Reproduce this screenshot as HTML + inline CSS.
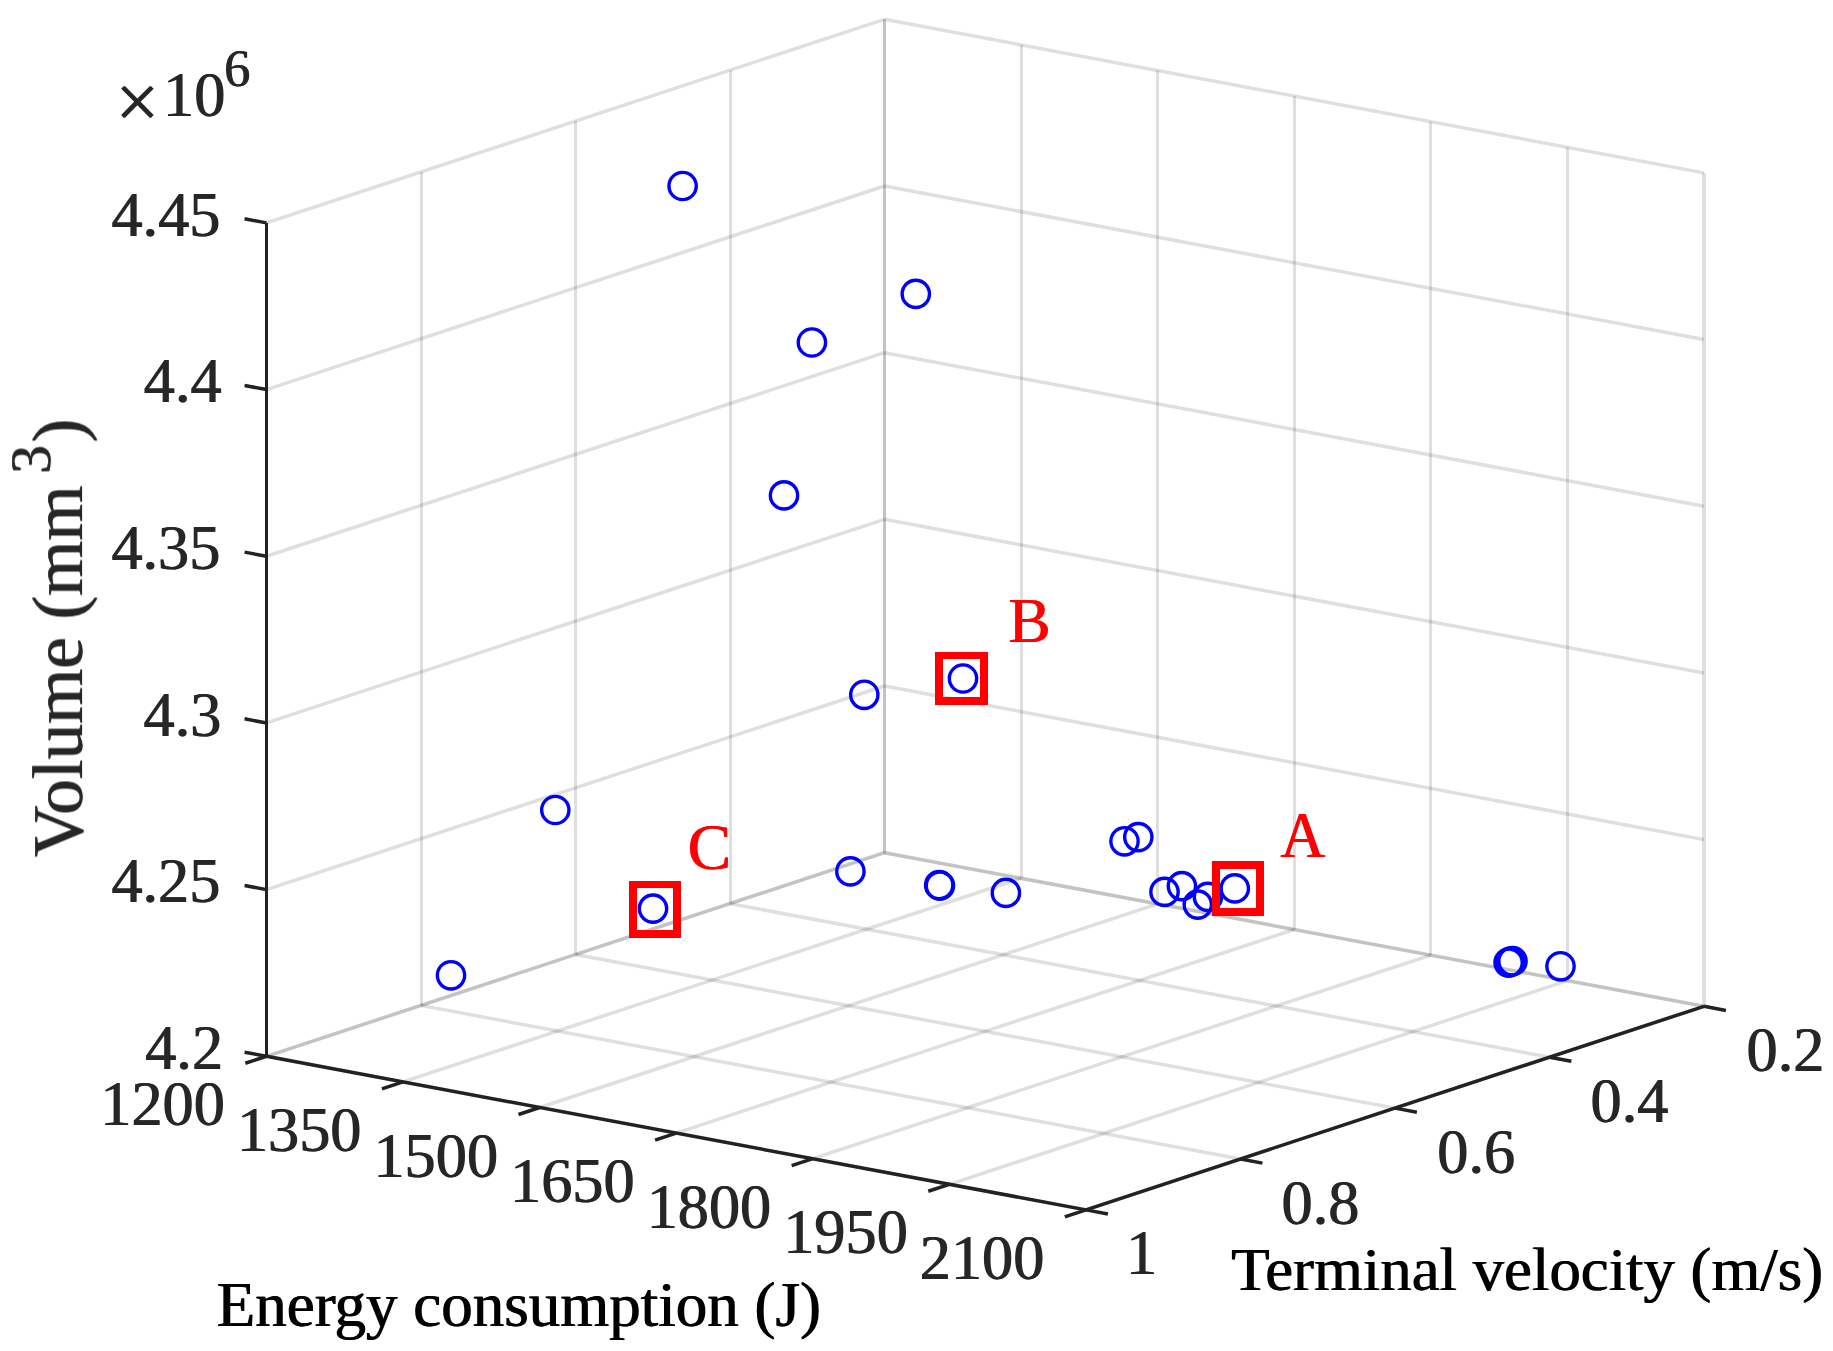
<!DOCTYPE html>
<html lang="en"><head><meta charset="utf-8"><title>Figure</title>
<style>
html,body{margin:0;padding:0;background:#fff;}
body{width:1833px;height:1351px;overflow:hidden;}
svg{display:block;font-family:"Liberation Serif","Times New Roman",serif;font-kerning:none;}
.g{stroke:#262626;stroke-opacity:.15;fill:none;stroke-linecap:butt}
.a{stroke:#222;fill:none;stroke-linecap:butt;stroke-linejoin:miter}
.t{fill:#262626;}
.l{fill:#000;font-kerning:normal;filter:url(#b13)}
.k{font-kerning:normal}
.r{fill:#f00;filter:url(#b10)}
.z{filter:url(#b07)}
.pts circle{fill:none;stroke:#00f;stroke-width:3.4}
.sq path{fill:#f00;stroke:none}
</style></head><body>
<svg width="1833" height="1351" viewBox="0 0 1833 1351">
<defs>
<filter id="b13" x="-2%" y="-10%" width="104%" height="120%"><feOffset dx="1.3" dy="0" result="o"/><feMerge><feMergeNode in="SourceGraphic"/><feMergeNode in="o"/></feMerge></filter>
<filter id="b10" x="-10%" y="-10%" width="120%" height="120%"><feOffset dx="1.0" dy="0" result="o"/><feMerge><feMergeNode in="SourceGraphic"/><feMergeNode in="o"/></feMerge></filter>
<filter id="bt" filterUnits="userSpaceOnUse" x="0" y="0" width="1833" height="1351"><feOffset dx="1.3" dy="0" result="o"/><feMerge><feMergeNode in="SourceGraphic"/><feMergeNode in="o"/></feMerge></filter>
<filter id="b07" x="-2%" y="-10%" width="104%" height="120%"><feOffset dx="1.1" dy="0" result="o"/><feMerge><feMergeNode in="SourceGraphic"/><feMergeNode in="o"/></feMerge></filter>
</defs>
<rect width="1833" height="1351" fill="#fff"/>
<g class="grid">
<line class="g" stroke-width="3.00" x1="266.50" y1="1056.30" x2="266.50" y2="222.90"/>
<line class="g" stroke-width="3.00" x1="421.50" y1="1005.40" x2="421.50" y2="172.00"/>
<line class="g" stroke-width="3.00" x1="575.50" y1="954.50" x2="575.50" y2="121.10"/>
<line class="g" stroke-width="3.00" x1="730.50" y1="903.60" x2="730.50" y2="70.20"/>
<line class="g" stroke-width="3.00" x1="884.50" y1="852.70" x2="884.50" y2="19.30"/>
<line class="g" stroke-width="3.50" x1="266.50" y1="1056.30" x2="884.50" y2="852.70"/>
<line class="g" stroke-width="3.50" x1="266.50" y1="889.62" x2="884.50" y2="686.02"/>
<line class="g" stroke-width="3.50" x1="266.50" y1="722.94" x2="884.50" y2="519.34"/>
<line class="g" stroke-width="3.50" x1="266.50" y1="556.26" x2="884.50" y2="352.66"/>
<line class="g" stroke-width="3.50" x1="266.50" y1="389.58" x2="884.50" y2="185.98"/>
<line class="g" stroke-width="3.50" x1="266.50" y1="222.90" x2="884.50" y2="19.30"/>
<line class="g" stroke-width="3.00" x1="884.50" y1="852.70" x2="884.50" y2="19.30"/>
<line class="g" stroke-width="3.00" x1="1021.50" y1="878.30" x2="1021.50" y2="44.90"/>
<line class="g" stroke-width="3.00" x1="1157.50" y1="903.90" x2="1157.50" y2="70.50"/>
<line class="g" stroke-width="3.00" x1="1294.50" y1="929.50" x2="1294.50" y2="96.10"/>
<line class="g" stroke-width="3.00" x1="1430.50" y1="955.10" x2="1430.50" y2="121.70"/>
<line class="g" stroke-width="3.00" x1="1567.50" y1="980.70" x2="1567.50" y2="147.30"/>
<line class="g" stroke-width="4.00" x1="1704.00" y1="1006.30" x2="1704.00" y2="172.90"/>
<line class="g" stroke-width="3.50" x1="884.50" y1="852.70" x2="1704.00" y2="1006.30"/>
<line class="g" stroke-width="3.50" x1="884.50" y1="686.02" x2="1704.00" y2="839.62"/>
<line class="g" stroke-width="3.50" x1="884.50" y1="519.34" x2="1704.00" y2="672.94"/>
<line class="g" stroke-width="3.50" x1="884.50" y1="352.66" x2="1704.00" y2="506.26"/>
<line class="g" stroke-width="3.50" x1="884.50" y1="185.98" x2="1704.00" y2="339.58"/>
<line class="g" stroke-width="3.50" x1="884.50" y1="19.30" x2="1704.00" y2="172.90"/>
<line class="g" stroke-width="3.50" x1="266.50" y1="1056.30" x2="884.50" y2="852.70"/>
<line class="g" stroke-width="3.50" x1="403.08" y1="1081.90" x2="1021.08" y2="878.30"/>
<line class="g" stroke-width="3.50" x1="539.67" y1="1107.50" x2="1157.67" y2="903.90"/>
<line class="g" stroke-width="3.50" x1="676.25" y1="1133.10" x2="1294.25" y2="929.50"/>
<line class="g" stroke-width="3.50" x1="812.83" y1="1158.70" x2="1430.83" y2="955.10"/>
<line class="g" stroke-width="3.50" x1="949.42" y1="1184.30" x2="1567.42" y2="980.70"/>
<line class="g" stroke-width="3.50" x1="1086.00" y1="1209.90" x2="1704.00" y2="1006.30"/>
<line class="g" stroke-width="3.50" x1="266.50" y1="1056.30" x2="1086.00" y2="1209.90"/>
<line class="g" stroke-width="3.50" x1="421.00" y1="1005.40" x2="1240.50" y2="1159.00"/>
<line class="g" stroke-width="3.50" x1="575.50" y1="954.50" x2="1395.00" y2="1108.10"/>
<line class="g" stroke-width="3.50" x1="730.00" y1="903.60" x2="1549.50" y2="1057.20"/>
<line class="g" stroke-width="3.50" x1="884.50" y1="852.70" x2="1704.00" y2="1006.30"/>
</g>
<g class="axes">
<line class="a" stroke-width="3.00" x1="266.50" y1="222.90" x2="266.50" y2="1057.80"/>
<line class="a" stroke-width="3.50" x1="266.50" y1="1056.30" x2="1086.00" y2="1209.90"/>
<line class="a" stroke-width="3.50" x1="1086.00" y1="1209.90" x2="1704.00" y2="1006.30"/>
<line class="a" stroke-width="3.50" x1="266.50" y1="1056.30" x2="244.58" y2="1052.19"/>
<line class="a" stroke-width="3.50" x1="266.50" y1="889.62" x2="244.58" y2="885.51"/>
<line class="a" stroke-width="3.50" x1="266.50" y1="722.94" x2="244.58" y2="718.83"/>
<line class="a" stroke-width="3.50" x1="266.50" y1="556.26" x2="244.58" y2="552.15"/>
<line class="a" stroke-width="3.50" x1="266.50" y1="389.58" x2="244.58" y2="385.47"/>
<line class="a" stroke-width="3.50" x1="266.50" y1="222.90" x2="244.58" y2="218.79"/>
<line class="a" stroke-width="3.50" x1="266.50" y1="1056.30" x2="245.32" y2="1063.28"/>
<line class="a" stroke-width="3.50" x1="403.08" y1="1081.90" x2="381.90" y2="1088.88"/>
<line class="a" stroke-width="3.50" x1="539.67" y1="1107.50" x2="518.49" y2="1114.48"/>
<line class="a" stroke-width="3.50" x1="676.25" y1="1133.10" x2="655.07" y2="1140.08"/>
<line class="a" stroke-width="3.50" x1="812.83" y1="1158.70" x2="791.65" y2="1165.68"/>
<line class="a" stroke-width="3.50" x1="949.42" y1="1184.30" x2="928.24" y2="1191.28"/>
<line class="a" stroke-width="3.50" x1="1086.00" y1="1209.90" x2="1064.82" y2="1216.88"/>
<line class="a" stroke-width="3.50" x1="1086.00" y1="1209.90" x2="1107.92" y2="1214.01"/>
<line class="a" stroke-width="3.50" x1="1240.50" y1="1159.00" x2="1262.42" y2="1163.11"/>
<line class="a" stroke-width="3.50" x1="1395.00" y1="1108.10" x2="1416.92" y2="1112.21"/>
<line class="a" stroke-width="3.50" x1="1549.50" y1="1057.20" x2="1571.42" y2="1061.31"/>
<line class="a" stroke-width="3.50" x1="1704.00" y1="1006.30" x2="1725.92" y2="1010.41"/>
</g>
<g class="ticklabels" filter="url(#bt)" transform="translate(-0.6,0)">
<text class="t" transform="translate(145.32,1069.09) scale(1,1.025)" font-size="62.3">4.2</text>
<text class="t" transform="translate(111.50,902.41) scale(1,1.025)" font-size="62.3">4.25</text>
<text class="t" transform="translate(143.62,735.73) scale(1,1.025)" font-size="62.3">4.3</text>
<text class="t" transform="translate(111.50,569.05) scale(1,1.025)" font-size="62.3">4.35</text>
<text class="t" transform="translate(143.94,402.37) scale(1,1.025)" font-size="62.3">4.4</text>
<text class="t" transform="translate(111.55,235.69) scale(1,1.025)" font-size="62.3">4.45</text>
<text class="t" transform="translate(100.39,1125.48) scale(1,1.025)" font-size="62.3">1200</text>
<text class="t" transform="translate(236.98,1151.08) scale(1,1.025)" font-size="62.3">1350</text>
<text class="t" transform="translate(373.56,1176.68) scale(1,1.025)" font-size="62.3">1500</text>
<text class="t" transform="translate(510.14,1202.28) scale(1,1.025)" font-size="62.3">1650</text>
<text class="t" transform="translate(646.73,1227.88) scale(1,1.025)" font-size="62.3">1800</text>
<text class="t" transform="translate(783.31,1253.48) scale(1,1.025)" font-size="62.3">1950</text>
<text class="t" transform="translate(919.89,1279.08) scale(1,1.025)" font-size="62.3">2100</text>
<text class="t" transform="translate(1126.14,1274.41) scale(1,1.025)" font-size="62.3">1</text>
<text class="t" transform="translate(1281.65,1223.51) scale(1,1.025)" font-size="62.3">0.8</text>
<text class="t" transform="translate(1437.35,1172.61) scale(1,1.025)" font-size="62.3">0.6</text>
<text class="t" transform="translate(1590.65,1121.71) scale(1,1.025)" font-size="62.3">0.4</text>
<text class="t" transform="translate(1746.65,1070.81) scale(1,1.025)" font-size="62.3">0.2</text>
<text class="t" transform="translate(115.67,128.10) scale(1,1.0)" font-size="77.5">×</text>
<text class="t" transform="translate(163.22,115.80) scale(1,1.025)" font-size="62.3">10</text>
<text class="t" transform="translate(224.47,86.40) scale(1,1.025)" font-size="52.0">6</text>
</g>
<text class="l" transform="translate(216.29,1325.80) scale(1,0.99)" font-size="63.0">Energy consumption (J)</text>
<text class="l" transform="translate(1230.77,1289.90) scale(1,0.99)" font-size="62.8">Terminal velocity (m/s)</text>
<text class="t z" transform="translate(82.1,857.45) rotate(-90) scale(1,1.01)" font-size="71.0" dx="0 -9">Volume (mm<tspan font-size="57" dx="11.7" dy="-31.5">3</tspan><tspan dy="31.5" dx="2.9">)</tspan></text>
<g class="pts">
<circle cx="682.6" cy="186.0" r="13.65"/>
<circle cx="915.8" cy="293.9" r="13.65"/>
<circle cx="811.9" cy="342.5" r="13.65"/>
<circle cx="784.0" cy="495.4" r="13.65"/>
<circle cx="864.3" cy="694.8" r="13.65"/>
<circle cx="555.3" cy="810.0" r="13.65"/>
<circle cx="451.0" cy="975.3" r="13.65"/>
<circle cx="850.4" cy="871.4" r="13.65"/>
<circle cx="939.2" cy="885.0" r="13.65"/>
<circle cx="939.9" cy="885.7" r="13.65"/>
<circle cx="1005.9" cy="892.9" r="13.65"/>
<circle cx="1124.5" cy="841.3" r="13.65"/>
<circle cx="1138.3" cy="837.1" r="13.65"/>
<circle cx="1164.5" cy="891.9" r="13.65"/>
<circle cx="1181.9" cy="886.1" r="13.65"/>
<circle cx="1197.8" cy="904.6" r="13.65"/>
<circle cx="1207.9" cy="896.9" r="13.65"/>
<circle cx="1508.6" cy="962.6" r="13.65"/>
<circle cx="1510.5" cy="961.9" r="13.65"/>
<circle cx="1512.5" cy="961.2" r="13.65"/>
<circle cx="1560.5" cy="966.3" r="13.65"/>
</g>
<g class="pts">
<circle cx="1234.8" cy="888.4" r="13.65"/>
<circle cx="963.0" cy="678.5" r="13.65"/>
<circle cx="653.0" cy="908.6" r="13.65"/>
</g>
<g class="sq">
<path fill-rule="evenodd" d="M1212,861H1264V916H1212ZM1220,869H1256V908H1220Z"/>
<path fill-rule="evenodd" d="M935,652H988V705H935ZM943,659H980V697H943Z"/>
<path fill-rule="evenodd" d="M629,881H681V938H629ZM637,888H673V930H637Z"/>
</g>
<text class="r" transform="translate(1280.10,857.00) scale(0.99,1.045)" font-size="62.5">A</text>
<text class="r" transform="translate(1007.98,641.80) scale(1.01,1.0)" font-size="62.5">B</text>
<text class="r" transform="translate(687.13,869.30) scale(1.04,1.052)" font-size="62.5">C</text>
</svg>
</body></html>
